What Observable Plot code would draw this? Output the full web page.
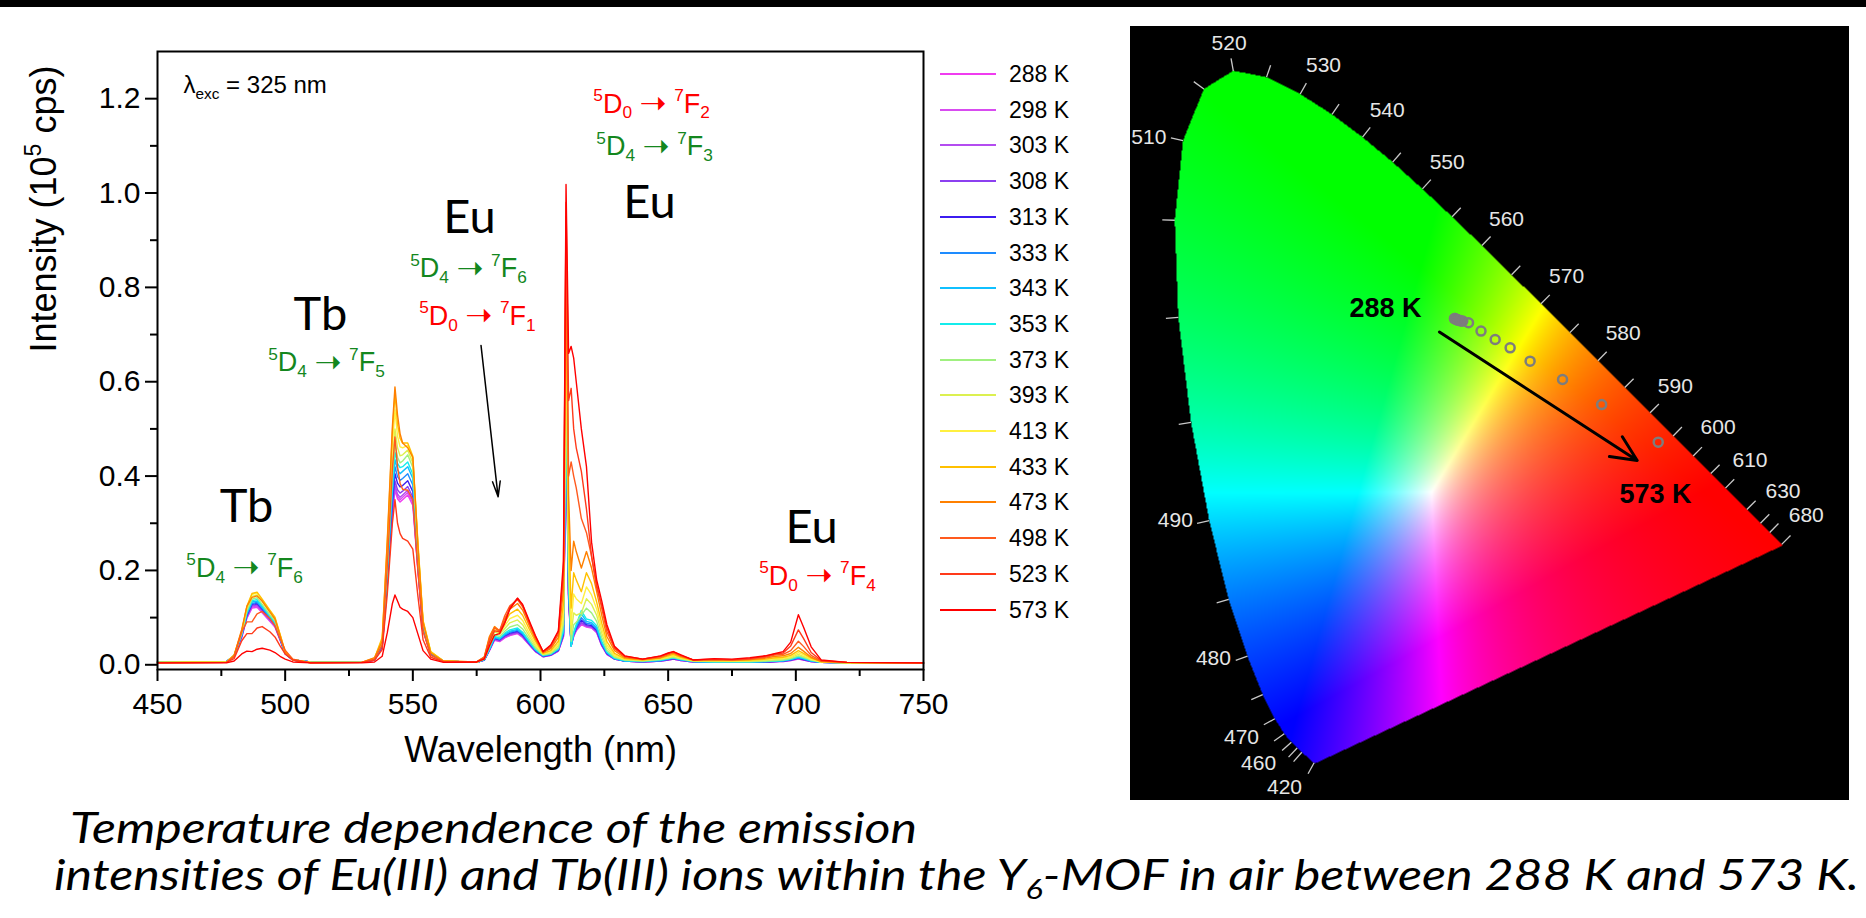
<!DOCTYPE html>
<html><head><meta charset="utf-8">
<script src="https://cdn.jsdelivr.net/npm/d3@7"></script>
<script src="https://cdn.jsdelivr.net/npm/@observablehq/plot@0.6"></script>
<style>
html,body{margin:0;padding:0;background:#fff;}
body{width:1866px;height:918px;position:relative;overflow:hidden;font-family:"Liberation Sans",Arial,sans-serif;}
#topbar{position:absolute;left:0;top:0;width:1866px;height:7px;background:#000;}
#spec{position:absolute;left:0;top:0;width:970px;height:778px;overflow:hidden;}
.lg-line{position:absolute;left:940px;width:56px;height:2px;}
.lg-text{position:absolute;left:1009px;font-size:23px;line-height:26px;color:#000;}
#cie{position:absolute;left:1130px;top:26px;width:719px;height:774px;background:#000;}
#caption{position:absolute;left:0;top:780px;font-variant-ligatures:none;}
</style></head><body>
<div id="topbar"></div>
<div id="spec"></div>
<div id="legend"></div>
<div id="cie"></div>
<svg id="caption" width="1866" height="138">
  <text x="70" y="63" textLength="847" lengthAdjust="spacingAndGlyphs" font-family="Lato, 'Open Sans', sans-serif" font-style="italic" font-size="42" style="font-variant-ligatures:none">Temperature dependence of the emission</text>
  <text x="54" y="110" textLength="1805" lengthAdjust="spacingAndGlyphs" font-family="Lato, 'Open Sans', sans-serif" font-style="italic" font-size="42" style="font-variant-ligatures:none">intensities of Eu(III) and Tb(III) ions within the Y<tspan font-size="27" dy="9">6</tspan><tspan dy="-9">-MOF in air between 288 K and 573 K.</tspan></text>
</svg>
<script>
// ---------------- Spectrum data ----------------
const wavelengths = [450,477,480,483,485,487,489,491,494,496,498,500,503,510,
  530,535,538,540,542,543,544,545,546,548,550,552,554,557,562,
  575,578,580,582,584,586,588,591,593,596,598,601,604,607,
  609,610,611,612,613,614,616,618,620,622,624,626,629,633,
  640,647,650,652,655,660,668,675,682,688,692,695,698,701,703,706,710,720,750];
const temps = [288,298,303,308,313,333,343,353,373,393,413,433,473,498,523,573];
const tempColors = ["#f03cf0","#d84cf0","#b44cf0","#8c40f0","#3c1cf0","#1e8cff","#10c0ff","#14ecec",
  "#a0f080","#dcf050","#fff040","#ffc000","#ff8000","#ff5a1e","#ff3a1a","#ff0000"];

const I288 = [.006,.007,.018,.058,.099,.120,.122,.110,.092,.080,.052,.023,.010,.006,
 .005,.010,.037,.167,.318,.370,.352,.345,.350,.360,.338,.198,.072,.022,.008,
 .005,.010,.030,.052,.049,.057,.062,.066,.058,.040,.028,.017,.020,.029,
 .060,.500,.140,.040,.060,.072,.085,.080,.078,.068,.040,.022,.012,.008,
 .006,.008,.010,.012,.009,.006,.005,.005,.005,.006,.007,.007,.009,.012,.010,.007,.005,.004,.004];
const I298 = [.006,.007,.018,.059,.100,.122,.124,.112,.094,.081,.053,.023,.010,.006,
 .005,.010,.038,.169,.322,.375,.357,.350,.355,.365,.343,.201,.073,.022,.008,
 .005,.010,.031,.053,.050,.058,.063,.067,.059,.040,.028,.017,.020,.029,
 .060,.510,.140,.040,.061,.073,.087,.081,.079,.069,.041,.022,.012,.008,
 .006,.008,.010,.012,.009,.006,.005,.005,.005,.006,.007,.007,.009,.013,.010,.007,.005,.004,.004];
const I303 = [.006,.007,.018,.060,.102,.124,.126,.114,.095,.082,.054,.024,.010,.006,
 .005,.010,.038,.171,.327,.380,.362,.355,.360,.370,.348,.204,.074,.022,.008,
 .005,.010,.031,.054,.051,.059,.064,.068,.060,.041,.029,.017,.020,.030,
 .062,.520,.145,.040,.062,.074,.088,.082,.080,.070,.041,.023,.012,.008,
 .006,.008,.010,.012,.009,.006,.005,.005,.005,.006,.007,.008,.010,.013,.011,.007,.005,.004,.004];
const I308 = [.006,.007,.019,.061,.103,.126,.128,.116,.097,.084,.055,.024,.010,.006,
 .005,.010,.039,.176,.335,.390,.371,.364,.368,.378,.355,.208,.076,.023,.008,
 .005,.010,.032,.055,.052,.060,.065,.069,.061,.041,.029,.018,.021,.030,
 .063,.530,.150,.040,.063,.075,.090,.083,.081,.071,.042,.023,.012,.008,
 .006,.008,.011,.013,.010,.006,.005,.005,.005,.006,.007,.008,.010,.014,.011,.007,.005,.004,.004];
const I313 = [.006,.007,.019,.062,.105,.128,.130,.118,.098,.085,.055,.024,.010,.006,
 .005,.011,.040,.182,.348,.405,.385,.377,.380,.390,.367,.215,.078,.023,.008,
 .005,.010,.032,.056,.053,.062,.067,.071,.063,.043,.030,.018,.021,.031,
 .065,.540,.150,.041,.065,.078,.095,.085,.083,.073,.043,.024,.013,.008,
 .007,.009,.011,.013,.010,.007,.005,.005,.006,.006,.007,.008,.010,.014,.011,.008,.005,.004,.004];
const I333 = [.006,.007,.019,.063,.107,.130,.132,.120,.100,.086,.056,.025,.010,.006,
 .005,.011,.042,.189,.361,.420,.399,.391,.395,.405,.381,.223,.081,.024,.008,
 .005,.011,.033,.057,.054,.063,.069,.073,.065,.044,.031,.019,.022,.032,
 .068,.560,.160,.041,.066,.080,.100,.088,.086,.076,.045,.025,.013,.008,
 .007,.009,.012,.014,.010,.007,.006,.006,.006,.007,.008,.008,.011,.015,.012,.008,.005,.004,.004];
const I343 = [.006,.007,.019,.064,.109,.133,.135,.122,.102,.088,.057,.025,.010,.006,
 .005,.011,.044,.196,.374,.435,.413,.405,.410,.420,.395,.231,.084,.025,.008,
 .005,.011,.033,.058,.055,.065,.071,.075,.067,.045,.032,.019,.022,.033,
 .070,.580,.170,.040,.067,.083,.108,.092,.089,.079,.047,.026,.013,.008,
 .007,.009,.012,.014,.011,.007,.006,.006,.006,.007,.008,.009,.011,.016,.013,.008,.005,.004,.004];
const I353 = [.006,.007,.020,.065,.112,.136,.138,.125,.104,.090,.058,.026,.010,.006,
 .005,.012,.045,.203,.387,.450,.427,.418,.420,.430,.404,.237,.086,.026,.008,
 .005,.011,.034,.060,.057,.067,.074,.078,.069,.047,.033,.020,.023,.034,
 .075,.600,.180,.039,.068,.085,.115,.097,.094,.083,.050,.027,.014,.009,
 .008,.010,.013,.015,.011,.007,.006,.006,.006,.007,.008,.009,.012,.017,.014,.009,.005,.004,.004];
const I373 = [.005,.006,.019,.067,.114,.139,.142,.128,.106,.093,.060,.026,.010,.005,
 .005,.012,.047,.212,.404,.470,.440,.428,.432,.445,.418,.245,.089,.027,.008,
 .005,.012,.038,.064,.060,.071,.080,.085,.076,.051,.036,.021,.024,.036,
 .085,.650,.200,.050,.085,.090,.105,.120,.110,.092,.058,.031,.016,.010,
 .008,.011,.014,.016,.012,.008,.007,.007,.007,.008,.009,.010,.013,.019,.016,.010,.006,.004,.004];
const I393 = [.005,.006,.020,.070,.119,.145,.148,.134,.111,.097,.063,.027,.011,.005,
 .005,.013,.050,.225,.430,.500,.460,.443,.445,.455,.428,.250,.091,.027,.008,
 .005,.013,.043,.070,.065,.077,.089,.095,.085,.057,.040,.022,.026,.040,
 .095,.700,.230,.065,.110,.105,.110,.140,.128,.105,.067,.036,.018,.011,
 .009,.012,.015,.018,.013,.008,.008,.008,.008,.009,.011,.012,.015,.022,.018,.011,.006,.004,.004];
const I413 = [.005,.006,.020,.071,.122,.149,.152,.137,.114,.099,.064,.027,.011,.005,
 .005,.014,.054,.243,.464,.540,.485,.462,.460,.465,.437,.256,.093,.028,.008,
 .005,.014,.050,.076,.067,.083,.098,.105,.094,.063,.044,.023,.028,.044,
 .110,.760,.260,.085,.150,.140,.130,.165,.148,.118,.076,.042,.021,.012,
 .010,.013,.017,.020,.015,.009,.009,.008,.009,.011,.013,.014,.017,.026,.021,.012,.006,.004,.004];
const I433 = [.005,.006,.020,.072,.124,.151,.154,.139,.116,.101,.065,.028,.011,.005,
 .005,.014,.058,.259,.495,.575,.510,.480,.470,.470,.442,.258,.094,.028,.008,
 .006,.016,.057,.080,.069,.090,.108,.118,.105,.071,.050,.024,.030,.050,
 .130,.830,.300,.120,.195,.180,.155,.195,.172,.133,.088,.049,.024,.013,
 .010,.014,.019,.022,.016,.009,.009,.009,.010,.012,.015,.016,.020,.030,.024,.014,.007,.004,.004];
const I473 = [.004,.005,.020,.075,.124,.143,.146,.135,.112,.097,.062,.026,.010,.004,
 .005,.015,.050,.265,.505,.589,.530,.490,.470,.460,.440,.250,.090,.025,.008,
 .006,.017,.060,.081,.072,.098,.118,.130,.116,.078,.055,.026,.034,.058,
 .160,.900,.360,.200,.262,.240,.205,.240,.205,.155,.105,.060,.030,.015,
 .011,.015,.021,.025,.018,.010,.010,.010,.011,.014,.018,.019,.024,.037,.029,.016,.007,.005,.004];
const I498 = [.004,.005,.017,.070,.091,.091,.108,.113,.098,.083,.055,.031,.012,.004,
 .005,.012,.042,.210,.415,.483,.420,.385,.372,.370,.350,.200,.072,.020,.007,
 .006,.016,.055,.078,.072,.104,.125,.138,.123,.083,.058,.027,.037,.065,
 .190,.950,.400,.430,.400,.375,.310,.280,.230,.170,.120,.070,.034,.017,
 .012,.017,.023,.027,.019,.010,.011,.010,.012,.016,.021,.022,.030,.050,.039,.020,.008,.005,.004];
const I523 = [.004,.005,.013,.051,.066,.066,.078,.081,.070,.059,.040,.023,.010,.004,
 .005,.010,.032,.150,.300,.350,.300,.278,.268,.262,.245,.145,.053,.016,.006,
 .006,.014,.048,.072,.070,.092,.122,.141,.126,.085,.060,.028,.040,.070,
 .200,.980,.560,.586,.500,.460,.410,.330,.230,.165,.125,.078,.036,.018,
 .012,.018,.024,.028,.020,.010,.012,.011,.013,.018,.023,.025,.040,.074,.056,.026,.009,.005,.004];
const I573 = [.004,.004,.008,.023,.029,.028,.033,.035,.031,.026,.018,.012,.006,.004,
 .004,.006,.018,.068,.130,.148,.135,.122,.118,.113,.100,.065,.030,.012,.005,
 .006,.012,.040,.063,.066,.088,.118,.141,.128,.088,.062,.028,.042,.072,
 .220,1.018,.660,.675,.650,.600,.500,.420,.260,.180,.135,.085,.039,.019,
 .012,.019,.025,.028,.021,.010,.013,.012,.015,.019,.024,.028,.048,.106,.080,.038,.010,.005,.004];
const series = [I288,I298,I303,I308,I313,I333,I343,I353,I373,I393,I413,I433,I473,I498,I523,I573];

const xMajor = [450,500,550,600,650,700,750];
const xMinor = [475,525,575,625,675,725];
const yMajor = [0,0.2,0.4,0.6,0.8,1.0,1.2];
const yMinor = [0.1,0.3,0.5,0.7,0.9,1.1];

// annotations (data coordinates: wavelength, intensity)
const bandLabels = [
  {w:484.9, v:0.334, text:"Tb"}, {w:513.8, v:0.741, text:"Tb"},
  {w:572.2, v:0.948, text:"Eu"}, {w:642.7, v:0.980, text:"Eu"}, {w:706.2, v:0.290, text:"Eu"}];
const transLabels = [
  {w:484.1, v:0.205, text:"^5D_4 => ^7F_6", color:"#14871e"},
  {w:516.2, v:0.641, text:"^5D_4 => ^7F_5", color:"#14871e"},
  {w:571.8, v:0.840, text:"^5D_4 => ^7F_6", color:"#14871e"},
  {w:575.3, v:0.739, text:"^5D_0 => ^7F_1", color:"#ff0000"},
  {w:643.5, v:1.189, text:"^5D_0 => ^7F_2", color:"#ff0000"},
  {w:644.7, v:1.098, text:"^5D_4 => ^7F_3", color:"#14871e"},
  {w:708.5, v:0.188, text:"^5D_0 => ^7F_4", color:"#ff0000"}];
const excLabel = [{w:460.2, v:1.2275, text:"λ_{exc} = 325 nm"}];
const specArrow = [{w1:576.7, v1:0.677, w2:583.4, v2:0.356}];

// ---------------- CIE data ----------------
const locusWL = [380,385,390,395,400,405,410,415,420,425,430,435,440,445,450,455,460,465,470,475,480,485,490,495,500,505,510,515,520,525,530,535,540,545,550,555,560,565,570,575,580,585,590,595,600,605,610,615,620,625,630,635,640,645,650,655,660,665,670,675,680,685,690,695,700];
const locusX = [.1741,.1740,.1738,.1736,.1733,.1730,.1726,.1721,.1714,.1703,.1689,.1669,.1644,.1611,.1566,.1510,.1440,.1355,.1241,.1096,.0913,.0687,.0454,.0235,.0082,.0039,.0139,.0389,.0743,.1142,.1547,.1929,.2296,.2658,.3016,.3373,.3731,.4087,.4441,.4788,.5125,.5448,.5752,.6029,.6270,.6482,.6658,.6801,.6915,.7006,.7079,.7140,.7190,.7230,.7260,.7283,.7300,.7311,.7320,.7327,.7334,.7340,.7344,.7346,.7347];
const locusY = [.0050,.0050,.0049,.0049,.0048,.0048,.0048,.0048,.0051,.0058,.0069,.0086,.0109,.0138,.0177,.0227,.0297,.0399,.0578,.0868,.1327,.2007,.2950,.4127,.5384,.6548,.7502,.8120,.8338,.8262,.8059,.7816,.7543,.7243,.6923,.6589,.6245,.5896,.5547,.5202,.4866,.4544,.4242,.3965,.3725,.3514,.3340,.3197,.3083,.2993,.2920,.2859,.2809,.2770,.2740,.2717,.2700,.2689,.2680,.2673,.2666,.2660,.2656,.2654,.2653];
const tickWL = [420,450,455,460,465,470,475,480,485,490,495,500,505,510,515,520,525,530,535,540,545,550,555,560,565,570,575,580,585,590,595,600,605,610,620,630,640,680];
const wlLabelText = ["520","530","540","550","560","570","580","590","600","610","630","680","510","490","480","470","460","420"];
const wlLabelX = [0.0692,0.1827,0.2592,0.3313,0.4026,0.4748,0.5429,0.6055,0.6570,0.6953,0.7350,0.7629,-0.0273,0.0046,0.0504,0.0841,0.1046,0.1358];
const wlLabelY = [0.8668,0.8401,0.7862,0.7243,0.6557,0.5878,0.5200,0.4557,0.4069,0.3671,0.3300,0.3012,0.7543,0.2952,0.1299,0.0357,0.0042,-0.0242];
const cieX = [0.340,0.341,0.342,0.343,0.344,0.346,0.348,0.350,0.357,0.372,0.389,0.407,0.431,0.470,0.517,0.585];
const cieY = [0.537,0.537,0.536,0.536,0.535,0.535,0.534,0.534,0.532,0.522,0.512,0.502,0.486,0.464,0.434,0.389];
const cieTempLabels = [{x:0.2572, y:0.5491, text:"288 K"}, {x:0.5817, y:0.3263, text:"573 K"}];
const cieArrow = [{x1:0.322, y1:0.521, x2:0.5597, y2:0.3671}];

// ---------------- rich text helper ----------------
function richify(root) {
  root.querySelectorAll("text").forEach(t => {
    const s = t.textContent;
    if (!/[\^_]|=>/.test(s)) return;
    const fs = parseFloat(getComputedStyle(t).fontSize) || 20;
    const toks = [];
    let i = 0;
    while (i < s.length) {
      const c = s[i];
      if (c === "^" || c === "_") {
        let content;
        if (s[i+1] === "{") { const j = s.indexOf("}", i); content = s.slice(i+2, j); i = j + 1; }
        else { content = s[i+1]; i += 2; }
        toks.push({t: content, m: c});
      } else if (c === "=" && s[i+1] === ">") {
        toks.push({t: "\u279D", m: "arrow"}); i += 2;
      } else {
        let j = i;
        while (j < s.length && s[j] !== "^" && s[j] !== "_" && !(s[j] === "=" && s[j+1] === ">")) j++;
        toks.push({t: s.slice(i, j), m: ""}); i = j;
      }
    }
    while (t.firstChild) t.removeChild(t.firstChild);
    let shift = 0;
    for (const k of toks) {
      const sp = document.createElementNS("http://www.w3.org/2000/svg", "tspan");
      let target = 0, size = fs;
      if (k.m === "^") { target = -0.42 * fs; size = 0.64 * fs; }
      else if (k.m === "_") { target = 0.22 * fs; size = 0.64 * fs; }
      else if (k.m === "arrow") { target = 0.06 * fs; size = 1.2 * fs; sp.setAttribute("font-family", "'DejaVu Sans', sans-serif"); }
      sp.setAttribute("font-size", size);
      if (Math.abs(target - shift) > 1e-6) sp.setAttribute("dy", target - shift);
      shift = target;
      sp.textContent = k.t;
      t.appendChild(sp);
    }
  });
}

// ---------------- Spectrum plot ----------------
const rows = [];
temps.forEach((T, k) => wavelengths.forEach((w, j) => rows.push({T, w, v: series[k][j], c: tempColors[k]})));

const spec = Plot.plot({
  width: 970, height: 780,
  marginLeft: 157, marginRight: 47, marginTop: 51, marginBottom: 111,
  x: {domain: [450, 750]},
  y: {domain: [-0.01, 1.3]},
  style: {fontFamily: "'Liberation Sans', Arial, sans-serif", color: "#000", background: "transparent"},
  marks: [
    Plot.line(rows, {x: "w", y: "v", z: "T", stroke: "c", strokeWidth: 1.4}),
    Plot.frame({stroke: "#000", strokeWidth: 2}),
    Plot.axisX(xMajor, {tickSize: 12, tickPadding: 11, fontSize: 30, strokeWidth: 2, label: null}),
    Plot.axisX(xMinor, {tickSize: 7, strokeWidth: 2, tickFormat: () => "", label: null}),
    Plot.axisY(yMajor, {tickSize: 12, tickPadding: 5, fontSize: 30, strokeWidth: 2, tickFormat: d => d.toFixed(1), label: null}),
    Plot.axisY(yMinor, {tickSize: 7, strokeWidth: 2, tickFormat: () => "", label: null}),
    Plot.text([0], {frameAnchor: "bottom", text: () => "Wavelength (nm)", dy: 92, fontSize: 36}),
    Plot.text([0], {frameAnchor: "left", text: () => "Intensity (10^5 cps)", rotate: -90, dx: -113, dy: -8, fontSize: 36}),
    Plot.text(bandLabels, {x: "w", y: "v", text: "text", fontSize: 47, fontFamily: "Lato, 'Open Sans', sans-serif"}),
    Plot.text(transLabels, {x: "w", y: "v", text: "text", fill: "color", fontSize: 27}),
    Plot.text(excLabel, {x: "w", y: "v", text: "text", fontSize: 24, textAnchor: "start"}),
    Plot.arrow(specArrow, {x1: "w1", y1: "v1", x2: "w2", y2: "v2", stroke: "#000", strokeWidth: 1.5, headLength: 16, headAngle: 28})
  ]
});
document.getElementById("spec").appendChild(spec);
richify(spec);

// ---------------- Legend ----------------
const legend = document.getElementById("legend");
temps.forEach((T, k) => {
  const yc = 74 + k * 35.7;
  const ln = document.createElement("div");
  ln.className = "lg-line"; ln.style.top = (yc - 1) + "px"; ln.style.background = tempColors[k];
  legend.appendChild(ln);
  const tx = document.createElement("div");
  tx.className = "lg-text"; tx.style.top = (yc - 13) + "px"; tx.textContent = T + " K";
  legend.appendChild(tx);
});

// ---------------- CIE plot ----------------
const locusPoly = locusX.map((x, i) => [x, locusY[i]]);
function cieColor(x, y) {
  if (y <= 0 || !d3.polygonContains(locusPoly, [x, y])) return null;
  const X = x / y, Z = (1 - x - y) / y;
  let r = 3.2406 * X - 1.5372 - 0.4986 * Z;
  let g = -0.9689 * X + 1.8758 + 0.0415 * Z;
  let b = 0.0557 * X - 0.2040 + 1.0570 * Z;
  r = Math.max(0, r); g = Math.max(0, g); b = Math.max(0, b);
  const m = Math.max(r, g, b) || 1;
  const f = v => Math.round(255 * Math.pow(v / m, 0.95));
  return `rgb(${f(r)},${f(g)},${f(b)})`;
}
const cieTicks = tickWL.map(w => {
  const i = locusWL.indexOf(w);
  const tx = locusX[i + 1] - locusX[i - 1], ty = locusY[i + 1] - locusY[i - 1];
  let nx = ty, ny = -tx; const L = Math.hypot(nx, ny); nx /= L; ny /= L;
  const px = locusX[i], py = locusY[i];
  if ((px - 0.33) * nx + (py - 0.33) * ny < 0) { nx = -nx; ny = -ny; }
  return {x1: px, y1: py, x2: px + nx * 0.015, y2: py + ny * 0.015};
});
const wlLabels = wlLabelText.map((t, i) => ({text: t, x: wlLabelX[i], y: wlLabelY[i]}));
const ciePts = temps.map((T, i) => ({T, x: cieX[i], y: cieY[i]}));
const xd = [-0.0493, 0.8149], yd = [-0.0401, 0.8868];

const cie = Plot.plot({
  width: 719, height: 774, margin: 0,
  x: {domain: xd, axis: null}, y: {domain: yd, axis: null},
  style: {background: "#000", fontFamily: "'Liberation Sans', Arial, sans-serif"},
  marks: [
    Plot.raster({x1: xd[0], x2: xd[1], y1: yd[0], y2: yd[1], fill: cieColor, pixelSize: 1}),
    Plot.link(cieTicks, {x1: "x1", y1: "y1", x2: "x2", y2: "y2", stroke: "#c8c8c8", strokeWidth: 1.3}),
    Plot.text(wlLabels, {x: "x", y: "y", text: "text", fill: "#e6e6e6", fontSize: 21}),
    Plot.arrow(cieArrow, {x1: "x1", y1: "y1", x2: "x2", y2: "y2", stroke: "#000", strokeWidth: 3, headLength: 14, headAngle: 50}),
    Plot.dot(ciePts, {x: "x", y: "y", r: 4.5, stroke: "#7d7d7d", strokeWidth: 2.5, fill: "none"}),
    Plot.text(cieTempLabels, {x: "x", y: "y", text: "text", fontSize: 27, fontWeight: "bold", fill: "#000"})
  ]
});
document.getElementById("cie").appendChild(cie);
</script>
</body></html>
